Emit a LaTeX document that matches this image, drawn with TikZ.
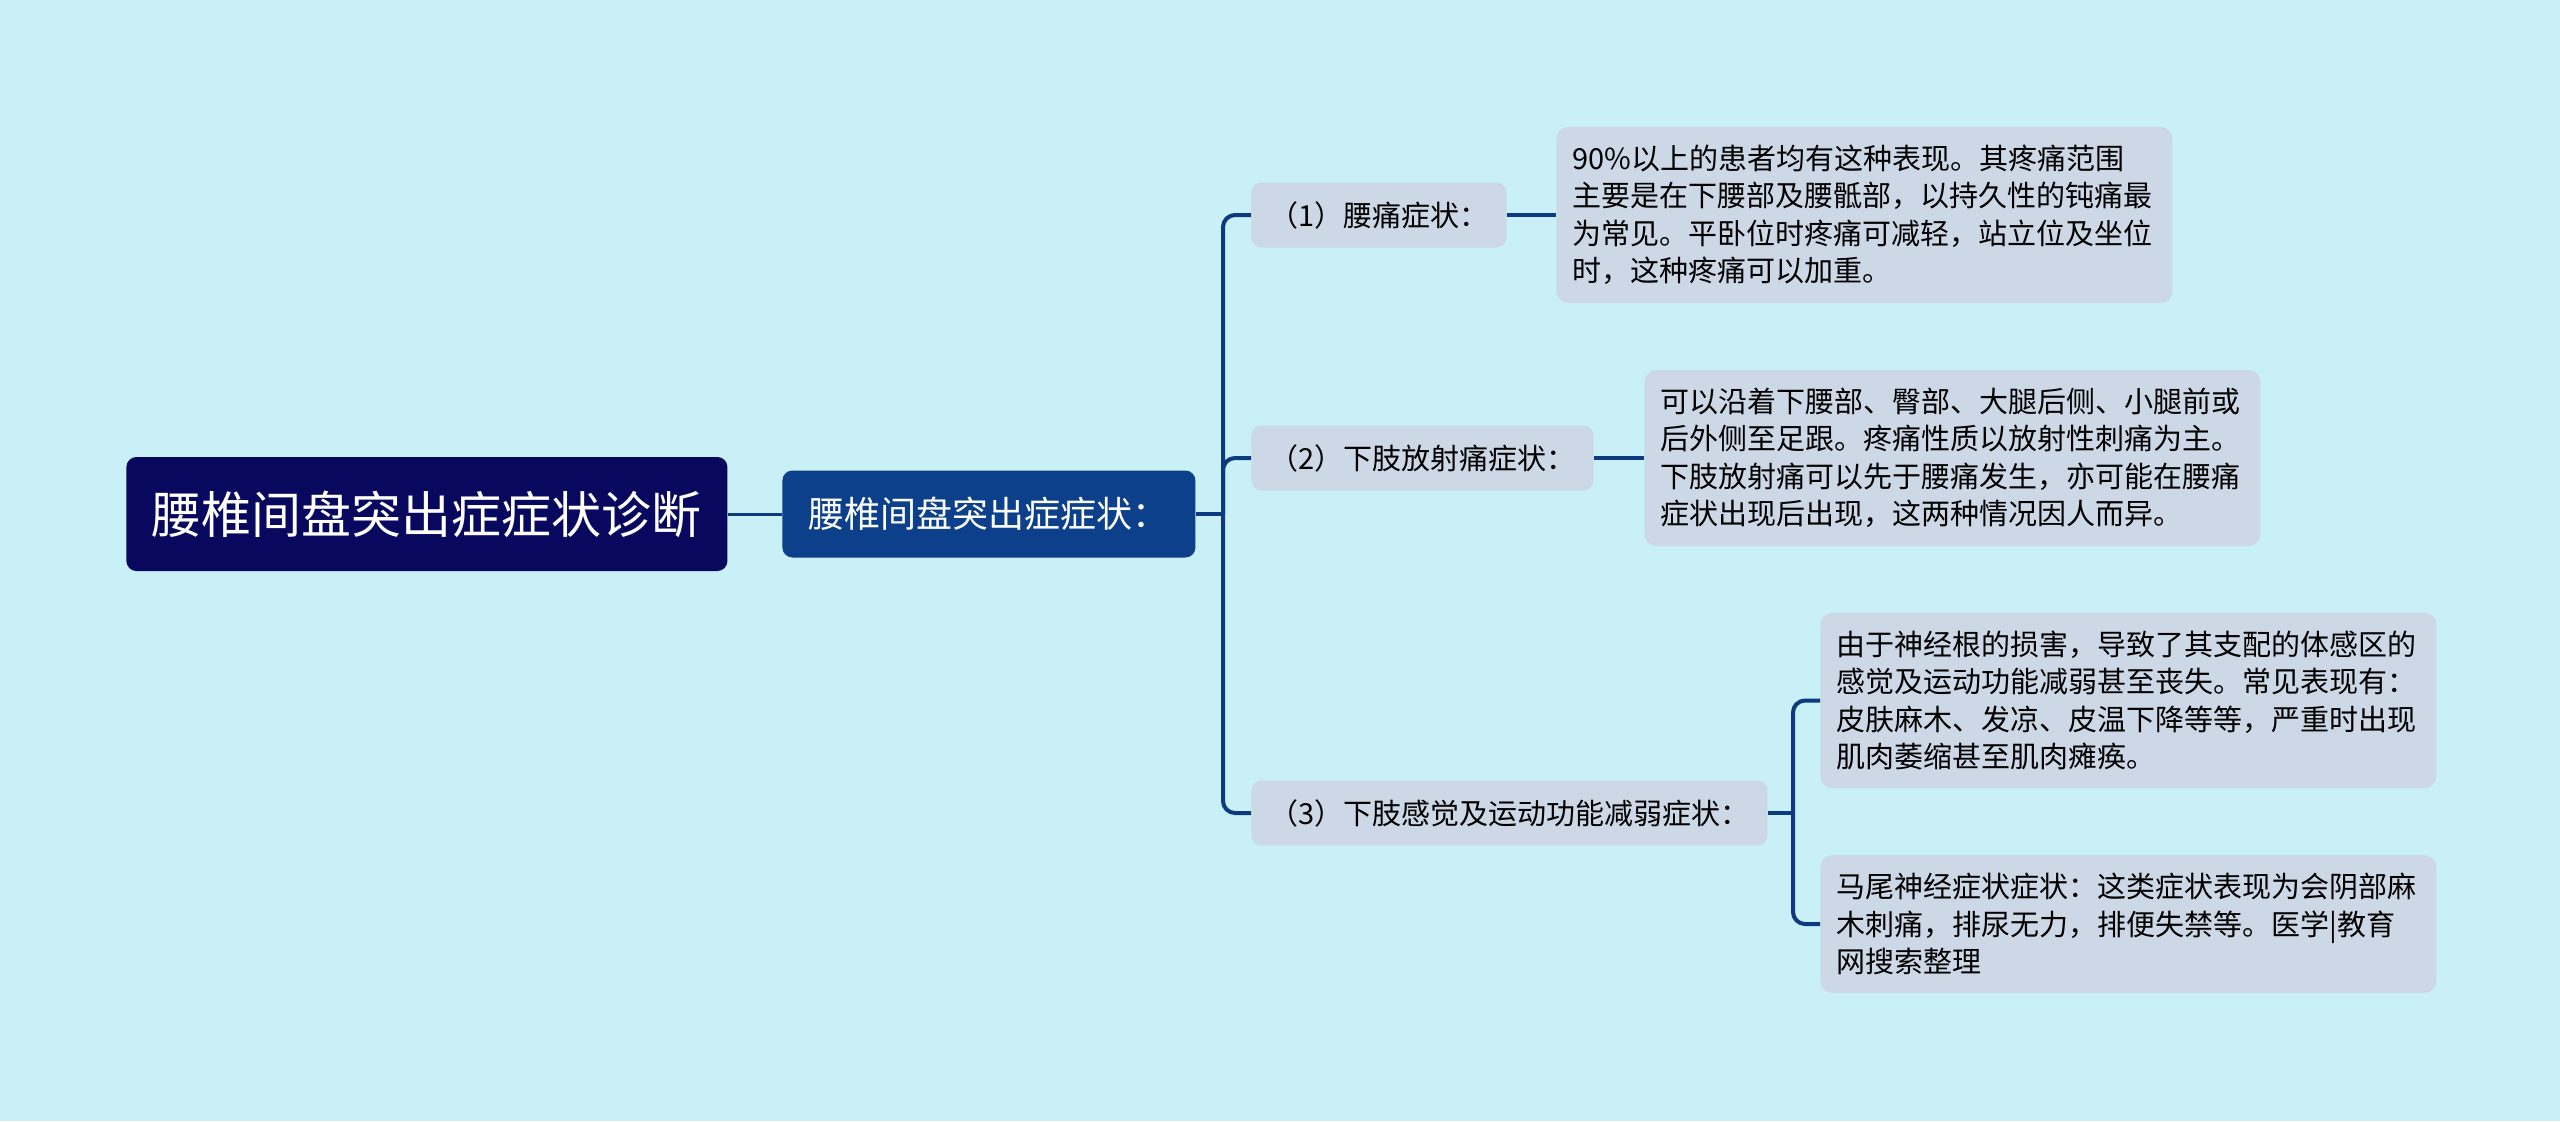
\documentclass[tikz,border=0pt]{standalone}
\usepackage{fontspec}
\setmainfont{Noto Sans CJK SC}
\usepackage{xcolor}
\usepackage{tikz}
\usetikzlibrary{positioning,backgrounds}
\definecolor{bgcyan}{RGB}{201, 240, 247}
\definecolor{rootblue}{RGB}{8, 8, 94}
\definecolor{subblue}{RGB}{12, 64, 138}
\definecolor{boxgray}{RGB}{205, 216, 230}
\definecolor{linkblue}{RGB}{14, 58, 128}
\tikzstyle{root} = [rectangle, rounded corners=5pt, fill=rootblue, text=white, anchor=west, font=\fontsize{25pt}{30pt}\selectfont, minimum width=300.5pt, minimum height=57pt, inner sep=0pt]
\tikzstyle{topic} = [rectangle, rounded corners=5pt, fill=subblue, text=white, anchor=west, font=\fontsize{18pt}{22pt}\selectfont, minimum width=206.5pt, minimum height=43.5pt, inner sep=0pt]
\tikzstyle{subtopic} = [rectangle, rounded corners=5pt, fill=boxgray, text=black, anchor=west, font=\fontsize{14.5pt}{17pt}\selectfont, minimum height=32.5pt, inner xsep=9pt, inner ysep=0pt]
\tikzstyle{leaf} = [rectangle, rounded corners=6pt, fill=boxgray, text=black, anchor=west, align=left, text width=292pt, font=\fontsize{14.5pt}{18.75pt}\selectfont, inner xsep=8pt, inner ysep=9pt]
\tikzstyle{tedge} = [draw=linkblue, line width=2pt, rounded corners=6pt]

\begin{document}
\begin{tikzpicture}[x=0.5pt, y=-0.5pt]

\fill[bgcyan] (0,0) rectangle (2560,1121);
\useasboundingbox (0,0) rectangle (2560,1121);

% main nodes =============================
\node[root] (main) at (126,514) {腰椎间盘突出症症状诊断};
\node[topic] (symp) at (782,514) {腰椎间盘突出症症状：};

% branches
\node[subtopic] (b1) at (1251,215) {（1）腰痛症状：};
\node[subtopic] (b2) at (1251,458) {（2）下肢放射痛症状：};
\node[subtopic] (b3) at (1251,813) {（3）下肢感觉及运动功能减弱症状：};

% details
\node[leaf] (d1) at (1556,215) {90\%以上的患者均有这种表现。其疼痛范围\\主要是在下腰部及腰骶部，以持久性的钝痛最\\为常见。平卧位时疼痛可减轻，站立位及坐位\\时，这种疼痛可以加重。};
\node[leaf] (d2) at (1644,458) {可以沿着下腰部、臀部、大腿后侧、小腿前或\\后外侧至足跟。疼痛性质以放射性刺痛为主。\\下肢放射痛可以先于腰痛发生，亦可能在腰痛\\症状出现后出现，这两种情况因人而异。};
\node[leaf] (d3) at (1820,700.5) {由于神经根的损害，导致了其支配的体感区的\\感觉及运动功能减弱甚至丧失。常见表现有：\\皮肤麻木、发凉、皮温下降等等，严重时出现\\肌肉萎缩甚至肌肉瘫痪。};
\node[leaf] (d4) at (1820,924) {马尾神经症状症状：这类症状表现为会阴部麻\\木刺痛，排尿无力，排便失禁等。医学|教育\\网搜索整理};

\coordinate (trunk) at (1223,514);
\coordinate (fork) at (1793,813);

% edges
\path[tedge, line width=1.5pt] (main.east) -- (symp.west);
\path[tedge] (symp.east) -- (trunk);
\path[tedge] (trunk) |- (b1.west);
\path[tedge] (trunk) |- (b2.west);
\path[tedge] (trunk) |- (b3.west);
\path[tedge] (b1.east) -- (d1.west);
\path[tedge] (b2.east) -- (d2.west);
\path[tedge] (b3.east) -- (fork);
\path[tedge] (fork) |- (d3.west);
\path[tedge] (fork) |- (d4.west);

\end{tikzpicture}
\end{document}
